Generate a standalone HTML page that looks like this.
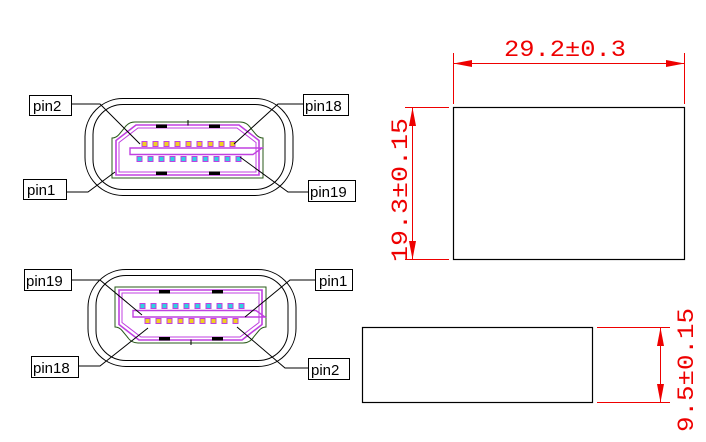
<!DOCTYPE html>
<html><head><meta charset="utf-8"><style>
html,body{margin:0;padding:0;background:#fff;width:706px;height:442px;overflow:hidden}
svg{display:block}
.lb{font-family:"Liberation Sans",sans-serif;font-size:15px;fill:#000}
.dim{font-family:"Liberation Mono",monospace;font-size:23px;fill:#e00}
</style></head><body>
<svg width="706" height="442" viewBox="0 0 706 442" xmlns="http://www.w3.org/2000/svg">
<defs>
<g id="conn">
  <rect x="-104" y="-48" width="208" height="97" rx="38" fill="none" stroke="#000" stroke-width="1"/>
  <rect x="-96" y="-42" width="192" height="85" rx="30" fill="none" stroke="#000" stroke-width="1"/>
  <path d="M-54,-24.5 L51,-24.5 Q58,-24.5 62,-18 L67,-12 Q70,-8.5 74,-8.5 L74,31.5 L-77,31.5 L-77,-8.5 Q-73,-8.5 -70,-12 L-65,-18 Q-61,-24.5 -54,-24.5 Z" fill="none" stroke="#2a5a1a" stroke-width="1"/>
  <path d="M-53,-21.5 L50,-21.5 L70,-6 L70,28.5 L-73,28.5 L-73,-6 Z" fill="none" stroke="#c040e0" stroke-width="1.6"/>
  <path d="M-51,-18.5 L48,-18.5 L67,-4 L67,25.5 L-70,25.5 L-70,-4 Z" fill="none" stroke="#c040e0" stroke-width="1"/>
  <rect x="-33" y="-22" width="11" height="3.5" fill="#000"/>
  <rect x="20" y="-22" width="11" height="3.5" fill="#000"/>
  <rect x="-33" y="25" width="11" height="3.5" fill="#000"/>
  <rect x="20" y="25" width="11" height="3.5" fill="#000"/>
  <line x1="-1" y1="-26.5" x2="-1" y2="-21" stroke="#000"/>
  <path d="M-59,1.5 L73,1.5 L64,8 L-59,8 Z" fill="none" stroke="#c040e0" stroke-width="1.4"/>
  <g fill="#f0d020" stroke="#c040e0" stroke-width="1">
    <rect x="-47" y="-5" width="5" height="5"/><rect x="-36" y="-5" width="5" height="5"/><rect x="-25" y="-5" width="5" height="5"/><rect x="-14" y="-5" width="5" height="5"/><rect x="-3" y="-5" width="5" height="5"/><rect x="8" y="-5" width="5" height="5"/><rect x="19" y="-5" width="5" height="5"/><rect x="30" y="-5" width="5" height="5"/><rect x="41" y="-5" width="5" height="5"/>
  </g>
  <g fill="#30d0e0" stroke="#c040e0" stroke-width="1">
    <rect x="-52" y="10" width="5" height="5"/><rect x="-41" y="10" width="5" height="5"/><rect x="-30" y="10" width="5" height="5"/><rect x="-19" y="10" width="5" height="5"/><rect x="-8" y="10" width="5" height="5"/><rect x="3" y="10" width="5" height="5"/><rect x="14" y="10" width="5" height="5"/><rect x="25" y="10" width="5" height="5"/><rect x="36" y="10" width="5" height="5"/><rect x="47" y="10" width="5" height="5"/>
  </g>
</g>
</defs>

<use href="#conn" transform="translate(189,146.5)"/>
<use href="#conn" transform="translate(192,318.5) scale(1,-1)"/>

<g fill="none" stroke="#000" stroke-width="1">
  <polyline points="72,104 100,104 140,144"/>
  <polyline points="303,104 278,104 234,144"/>
  <polyline points="67,192 88,192 115,172"/>
  <polyline points="308,192 288,192 240,157"/>
  <polyline points="72,280 100,280 142,315"/>
  <polyline points="315,280 290,280 245,317"/>
  <polyline points="78,366 100,366 148,328"/>
  <polyline points="308,368 285,368 237,327"/>
</g>
<g fill="#fff" stroke="#000" stroke-width="1">
  <rect x="29.5" y="95.5" width="42" height="20"/>
  <rect x="303.5" y="94.5" width="45" height="21"/>
  <rect x="23.5" y="179.5" width="43" height="20"/>
  <rect x="308.5" y="180.5" width="47" height="21"/>
  <rect x="24.5" y="269.5" width="47" height="21"/>
  <rect x="315.5" y="269.5" width="37" height="21"/>
  <rect x="31.5" y="356.5" width="47" height="21"/>
  <rect x="308.5" y="358.5" width="41" height="21"/>
</g>
<text class="lb" x="33" y="111">pin2</text>
<text class="lb" x="305" y="111">pin18</text>
<text class="lb" x="27" y="195">pin1</text>
<text class="lb" x="310" y="197">pin19</text>
<text class="lb" x="26" y="286">pin19</text>
<text class="lb" x="319" y="286">pin1</text>
<text class="lb" x="33" y="373">pin18</text>
<text class="lb" x="311" y="375">pin2</text>

<rect x="453.5" y="107.5" width="231" height="152" fill="none" stroke="#000" stroke-width="1.2"/>
<rect x="362.5" y="327.5" width="230" height="75" fill="none" stroke="#000" stroke-width="1.2"/>

<g stroke="#e00" stroke-width="1" fill="none">
  <line x1="453.5" y1="53" x2="453.5" y2="104"/>
  <line x1="684.5" y1="53" x2="684.5" y2="104"/>
  <line x1="453.5" y1="63.5" x2="684.5" y2="63.5"/>
  <line x1="405" y1="107.5" x2="449" y2="107.5"/>
  <line x1="405" y1="259.5" x2="449" y2="259.5"/>
  <line x1="412.5" y1="107.5" x2="412.5" y2="259.5"/>
  <line x1="597" y1="327.5" x2="670" y2="327.5"/>
  <line x1="597" y1="402.5" x2="670" y2="402.5"/>
  <line x1="660.5" y1="327.5" x2="660.5" y2="402.5"/>
</g>
<g fill="#e00">
  <polygon points="453.5,63.5 472,60 472,67"/>
  <polygon points="684.5,63.5 666,60 666,67"/>
  <polygon points="412.5,107.5 409,126 416,126"/>
  <polygon points="412.5,259.5 409,241 416,241"/>
  <polygon points="660.5,327.5 657,346 664,346"/>
  <polygon points="660.5,402.5 657,384 664,384"/>
</g>
<text class="dim" x="565" y="56" text-anchor="middle" textLength="122" lengthAdjust="spacingAndGlyphs">29.2±0.3</text>
<text class="dim" transform="translate(407,190) rotate(-90)" text-anchor="middle" textLength="144" lengthAdjust="spacingAndGlyphs">19.3±0.15</text>
<text class="dim" transform="translate(693,370) rotate(-90)" text-anchor="middle" textLength="124" lengthAdjust="spacingAndGlyphs">9.5±0.15</text>
</svg>
</body></html>
